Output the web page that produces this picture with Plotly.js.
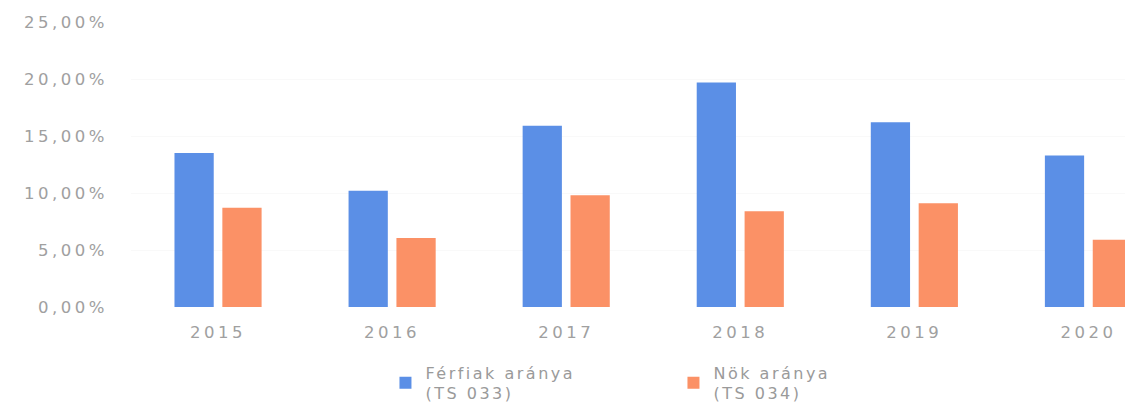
<!DOCTYPE html>
<html>
<head>
<meta charset="utf-8">
<script src="https://cdn.plot.ly/plotly-3.0.1.min.js"></script>
<style>
  html, body { margin: 0; padding: 0; background: #ffffff; }
  #chart { width: 1125px; height: 408px; }
  .xtick text, .ytick text { letter-spacing: 3.5px; }
  .legendtext { letter-spacing: 2.5px; }
</style>
</head>
<body>
<div id="chart"></div>
<script>
const years = ['2015', '2016', '2017', '2018', '2019', '2020'];
const menLabel = 'Férfiak aránya<br>(TS 033)';
const womenLabel = 'Nök aránya<br>(TS 034)';
const menShare = [0.135, 0.102, 0.159, 0.197, 0.162, 0.133];
const womenShare = [0.087, 0.0605, 0.098, 0.084, 0.091, 0.059];
const yTicks = [0, 0.05, 0.10, 0.15, 0.20, 0.25];

const tickFont = { family: 'DejaVu Sans, sans-serif', size: 16.5, color: '#a0a0a0' };

const data = [
  { type: 'bar', x: years, y: menShare, name: menLabel,
    marker: { color: '#5b8fe6' }, hoverinfo: 'skip' },
  { type: 'bar', x: years, y: womenShare, name: womenLabel,
    marker: { color: '#fb9166' }, hoverinfo: 'skip' }
];

const layout = {
  width: 1125, height: 408,
  paper_bgcolor: '#ffffff', plot_bgcolor: '#ffffff',
  separators: ', ',
  margin: { l: 131, r: 0, t: 22, b: 101, autoexpand: false },
  barmode: 'group',
  bargap: 0.45,
  bargroupgap: 0.18,
  showlegend: true,
  legend: {
    orientation: 'h',
    x: 0.256, xanchor: 'left',
    y: -0.17, yanchor: 'top',
    font: { family: 'DejaVu Sans, sans-serif', size: 16, color: '#9a9a9a' },
    entrywidth: 243, entrywidthmode: 'pixels',
    itemwidth: 30,
    tracegroupgap: 0
  },
  xaxis: {
    type: 'category',
    range: [-0.5, 5.21],
    automargin: false,
    showgrid: false, zeroline: false, showline: false,
    ticks: '', tickfont: tickFont,
    ticklabelstandoff: 13,
    fixedrange: true
  },
  yaxis: {
    range: [0, 0.25],
    automargin: false,
    tickvals: yTicks,
    tickformat: '.2%',
    showgrid: true, gridcolor: '#f9f9f9', gridwidth: 1,
    zeroline: false, showline: false,
    ticks: '', tickfont: tickFont,
    ticklabelstandoff: 22,
    fixedrange: true
  }
};

Plotly.newPlot('chart', data, layout, { displayModeBar: false, staticPlot: true });
</script>
</body>
</html>
